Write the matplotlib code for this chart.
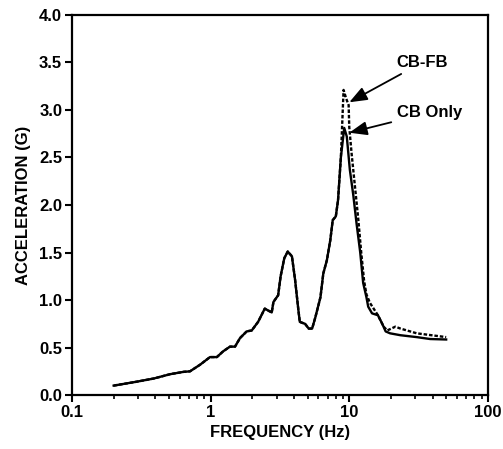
import matplotlib.pyplot as plt
from matplotlib.ticker import FixedLocator, FixedFormatter, LogLocator, NullFormatter

plt.rcParams['font.family'] = ['Liberation Sans', 'DejaVu Sans']
plt.rcParams['font.weight'] = 'bold'
plt.rcParams['axes.labelweight'] = 'bold'

# CB Only (solid)
freq_cb = [0.2, 0.29, 0.39, 0.51, 0.64, 0.71, 0.84, 0.99, 1.11, 1.23, 1.38, 1.5, 1.63,
           1.82, 1.98, 2.2, 2.46, 2.6, 2.76, 2.84, 3.07, 3.2, 3.4, 3.6, 3.86, 4.07, 4.3,
           4.4, 4.8, 5.1, 5.4, 5.7, 6.2, 6.5, 6.9, 7.3, 7.6, 8.0, 8.3, 8.7, 9.2, 9.6,
           10.1, 10.7, 11.3, 12.0, 12.6, 13.3, 13.7, 14.6, 16.1, 17.3, 18.3, 19.7, 23.4,
           30.7, 38.3, 50]
acc_cb = [0.10, 0.14, 0.175, 0.22, 0.245, 0.25, 0.32, 0.40, 0.40, 0.46, 0.51, 0.51, 0.60,
          0.67, 0.68, 0.77, 0.91, 0.89, 0.87, 0.98, 1.05, 1.25, 1.44, 1.51, 1.46, 1.21, 0.89,
          0.77, 0.75, 0.70, 0.70, 0.82, 1.03, 1.28, 1.42, 1.63, 1.84, 1.88, 2.05, 2.5, 2.81, 2.72,
          2.37, 2.1, 1.8, 1.5, 1.18, 1.03, 0.93, 0.86, 0.84, 0.75, 0.67, 0.65, 0.63,
          0.61, 0.59, 0.585]

# CB-FB (dashed)
freq_fb = [0.2, 0.29, 0.39, 0.51, 0.64, 0.71, 0.84, 0.99, 1.11, 1.23, 1.38, 1.5, 1.63,
           1.82, 1.98, 2.2, 2.46, 2.6, 2.76, 2.84, 3.07, 3.2, 3.4, 3.6, 3.86, 4.07, 4.3,
           4.4, 4.8, 5.1, 5.4, 5.7, 6.2, 6.5, 6.9, 7.3, 7.6, 8.0, 8.3, 8.7, 9.1, 9.5,
           9.9, 10.0, 10.4, 11.0, 11.6, 12.2, 12.8, 13.3, 14.1, 15.3, 16.1, 17.7, 18.8,
           21.5, 23.4, 30.7, 50]
acc_fb = [0.10, 0.14, 0.175, 0.22, 0.245, 0.25, 0.32, 0.40, 0.40, 0.46, 0.51, 0.51, 0.60,
          0.67, 0.68, 0.77, 0.91, 0.89, 0.87, 0.98, 1.05, 1.25, 1.44, 1.51, 1.46, 1.21, 0.89,
          0.77, 0.75, 0.70, 0.70, 0.82, 1.03, 1.28, 1.42, 1.63, 1.84, 1.88, 2.05, 2.5, 3.21, 3.12,
          3.05, 2.82, 2.54, 2.19, 1.86, 1.5, 1.2, 1.06, 0.97, 0.89, 0.84, 0.72, 0.68,
          0.72, 0.70, 0.65, 0.61]

fig = plt.figure(figsize=(5.03, 4.49), dpi=100)
ax = fig.add_axes([0.143, 0.12, 0.827, 0.847])

ax.plot(freq_cb, acc_cb, color='black', lw=1.7)
ax.plot(freq_fb, acc_fb, color='black', lw=1.7, ls=(0, (1.5, 0.8)))

ax.set_xscale('log')
ax.set_xlim(0.1, 100)
ax.set_ylim(0, 4.0)
ax.xaxis.set_major_locator(FixedLocator([0.1, 1, 10, 100]))
ax.xaxis.set_major_formatter(FixedFormatter(['0.1', '1', '10', '100']))
ax.xaxis.set_minor_locator(LogLocator(base=10, subs=range(2, 10)))
ax.xaxis.set_minor_formatter(NullFormatter())
ax.set_yticks([i * 0.5 for i in range(9)])
ax.set_yticklabels(['%.1f' % (i * 0.5) for i in range(9)])

ax.tick_params(which='major', direction='out', length=5, width=1.5, labelsize=12, pad=2)
ax.tick_params(which='minor', direction='out', length=3, width=1.2)
for s in ax.spines.values():
    s.set_linewidth(1.6)

ax.set_xlabel('FREQUENCY (Hz)', fontsize=12, labelpad=4)
ax.set_ylabel('ACCELERATION (G)', fontsize=12, labelpad=6)

arrow = dict(arrowstyle='-|>,head_length=0.9,head_width=0.35', color='black', lw=1.3,
             shrinkA=2, shrinkB=0)
ax.annotate('CB-FB', xy=(10.0, 3.08), xytext=(22, 3.5), fontsize=12,
            va='center', ha='left', arrowprops=arrow)
ax.annotate('CB Only', xy=(10.0, 2.76), xytext=(22, 2.97), fontsize=12,
            va='center', ha='left', arrowprops=arrow)

fig.savefig('out.png', dpi=100, facecolor='white')
